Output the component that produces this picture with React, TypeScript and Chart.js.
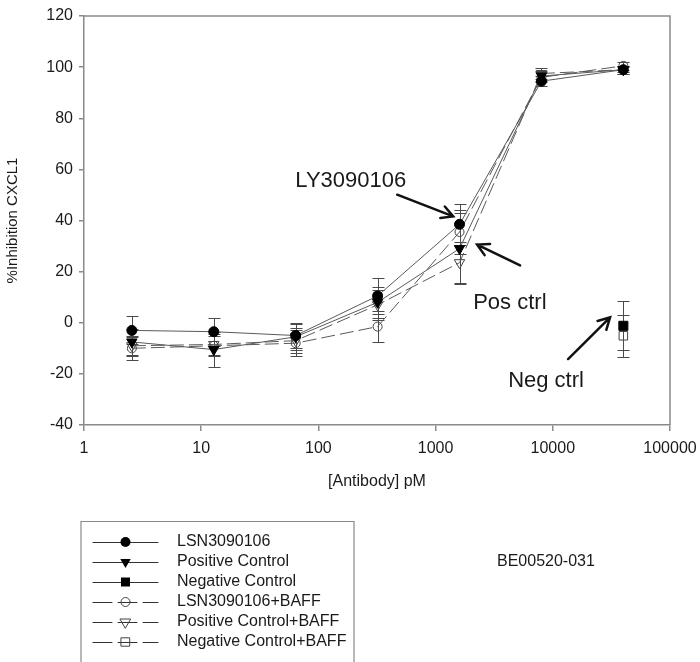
import React, { useEffect, useRef } from 'react';
import { Chart, registerables } from 'chart.js';

Chart.register(...registerables);

// ---------- data ----------
const seriesLabels = [
  'LSN3090106',
  'Positive Control',
  'Negative Control',
  'LSN3090106+BAFF',
  'Positive Control+BAFF',
  'Negative Control+BAFF',
];
const concentrations = [2.56, 12.8, 64, 320, 1600, 8000, 40000];
const negConcentrations = [40000];

const lsnValues = [-3, -3.5, -5, 10.5, 38.5, 94.5, 99];
const lsnErrors = [5.5, 5.5, 5, 7, 8, 2, 1.5];
const posValues = [-7.5, -10.5, -5.5, 8, 29, 96.5, 99];
const posErrors = [5, 7, 5, 6, 14, 2, 1];
const negValues = [-1.2];
const negErrors = [9.6];
const lsnBaffValues = [-10, -9, -8, -1.5, 35.5, 96, 100.5];
const lsnBaffErrors = [4.5, 4, 5, 6, 8.5, 2, 1.5];
const posBaffValues = [-9, -8.5, -7, 7, 23.5, 97.5, 99];
const posBaffErrors = [4, 4, 5, 6, 8, 2, 1.5];
const negBaffValues = [-5.1];
const negBaffErrors = [8.3];

const xTickValues = [1, 10, 100, 1000, 10000, 100000];
const yMin = -40;
const yMax = 120;
const yStep = 20;

const annotationTexts = ['LY3090106', 'Pos ctrl', 'Neg ctrl'];
const annotationTextAt = [[63.5, 53.3], [2093, 5.3], [4158, -25.2]];
const arrowFrom = [[470, 50.1], [5260, 22.4], [13500, -14.2]];
const arrowTo = [[1413, 41.6], [2259, 30.6], [30800, 2.1]];

const sideLabel = 'BE00520-031';

// ---------- styles ----------
const FONT = "'Liberation Sans', Arial, Helvetica, sans-serif";
const AXIS = '#8a8a8a';
const TEXT = '#1a1a1a';
const LINE = '#5a5a5a';

type Mk = { style: string; filled: boolean; dashed: boolean };
const markers: Mk[] = [
  { style: 'circle', filled: true, dashed: false },
  { style: 'triangle', filled: true, dashed: false },
  { style: 'rect', filled: true, dashed: false },
  { style: 'circle', filled: false, dashed: true },
  { style: 'triangle', filled: false, dashed: true },
  { style: 'rect', filled: false, dashed: true },
];

const seriesValues = [lsnValues, posValues, negValues, lsnBaffValues, posBaffValues, negBaffValues];
const seriesErrors = [lsnErrors, posErrors, negErrors, lsnBaffErrors, posBaffErrors, negBaffErrors];
const seriesX = [concentrations, concentrations, negConcentrations, concentrations, concentrations, negConcentrations];

function drawMarker(ctx: CanvasRenderingContext2D, m: Mk, x: number, y: number) {
  ctx.save();
  ctx.beginPath();
  if (m.style === 'circle') {
    ctx.arc(x, y, m.filled ? 5 : 4.5, 0, Math.PI * 2);
  } else if (m.style === 'triangle') {
    const r = 6;
    ctx.moveTo(x - r * 0.866, y - r * 0.5);
    ctx.lineTo(x + r * 0.866, y - r * 0.5);
    ctx.lineTo(x, y + r);
    ctx.closePath();
  } else {
    const h = m.filled ? 4.5 : 4.2;
    ctx.rect(x - h, y - h, h * 2, h * 2);
  }
  if (m.filled) {
    ctx.fillStyle = '#000';
    ctx.fill();
  } else {
    ctx.strokeStyle = '#444';
    ctx.lineWidth = 1;
    ctx.stroke();
  }
  ctx.restore();
}

const errorBarPlugin = {
  id: 'errorBars',
  beforeDatasetsDraw(chart: any) {
    const { ctx } = chart;
    const xs = chart.scales.x;
    const ys = chart.scales.y;
    ctx.save();
    ctx.strokeStyle = '#4a4a4a';
    ctx.lineWidth = 1;
    chart.data.datasets.forEach((ds: any, i: number) => {
      const errs = seriesErrors[i];
      ds.data.forEach((p: any, j: number) => {
        const e = errs[j];
        if (!e) return;
        const px = Math.round(xs.getPixelForValue(p.x)) + 0.5;
        const top = Math.round(ys.getPixelForValue(p.y + e)) + 0.5;
        const bot = Math.round(ys.getPixelForValue(p.y - e)) + 0.5;
        ctx.beginPath();
        ctx.moveTo(px, top);
        ctx.lineTo(px, bot);
        ctx.moveTo(px - 6, top);
        ctx.lineTo(px + 6, top);
        ctx.moveTo(px - 6, bot);
        ctx.lineTo(px + 6, bot);
        ctx.stroke();
      });
    });
    ctx.restore();
  },
};

const decorPlugin = {
  id: 'decor',
  afterDraw(chart: any) {
    const { ctx, chartArea } = chart;
    const xs = chart.scales.x;
    const ys = chart.scales.y;
    ctx.save();
    // frame (top & right)
    ctx.strokeStyle = AXIS;
    ctx.lineWidth = 1.5;
    ctx.beginPath();
    ctx.moveTo(chartArea.left, chartArea.top);
    ctx.lineTo(chartArea.right, chartArea.top);
    ctx.lineTo(chartArea.right, chartArea.bottom);
    ctx.stroke();

    // annotations
    ctx.fillStyle = TEXT;
    ctx.font = `22px ${FONT}`;
    ctx.textAlign = 'left';
    ctx.textBaseline = 'alphabetic';
    annotationTexts.forEach((t, i) => {
      const [ax, ay] = annotationTextAt[i];
      ctx.fillText(t, xs.getPixelForValue(ax), ys.getPixelForValue(ay));
    });
    ctx.strokeStyle = '#111';
    ctx.lineWidth = 2.5;
    ctx.lineCap = 'round';
    arrowFrom.forEach((f, i) => {
      const x1 = xs.getPixelForValue(f[0]);
      const y1 = ys.getPixelForValue(f[1]);
      const x2 = xs.getPixelForValue(arrowTo[i][0]);
      const y2 = ys.getPixelForValue(arrowTo[i][1]);
      const ang = Math.atan2(y2 - y1, x2 - x1);
      const hl = 13;
      ctx.beginPath();
      ctx.moveTo(x1, y1);
      ctx.lineTo(x2, y2);
      ctx.moveTo(x2 - hl * Math.cos(ang - 0.5), y2 - hl * Math.sin(ang - 0.5));
      ctx.lineTo(x2, y2);
      ctx.lineTo(x2 - hl * Math.cos(ang + 0.5), y2 - hl * Math.sin(ang + 0.5));
      ctx.stroke();
    });

    // legend box
    const bx = chartArea.left - 3;
    const by = 521.5;
    const bw = 273;
    ctx.strokeStyle = AXIS;
    ctx.lineWidth = 1.2;
    ctx.beginPath();
    ctx.moveTo(bx, 670);
    ctx.lineTo(bx, by);
    ctx.lineTo(bx + bw, by);
    ctx.lineTo(bx + bw, 670);
    ctx.stroke();

    ctx.font = `16px ${FONT}`;
    ctx.fillStyle = TEXT;
    ctx.textBaseline = 'middle';
    seriesLabels.forEach((lab, i) => {
      const m = markers[i];
      const ly = 542 + i * 20;
      const lx1 = bx + 12;
      const lx2 = bx + 77;
      const mx = (lx1 + lx2) / 2;
      ctx.save();
      ctx.strokeStyle = '#333';
      ctx.lineWidth = 1;
      if (m.dashed) ctx.setLineDash([19, 6]);
      ctx.beginPath();
      ctx.moveTo(lx1, ly + 0.5);
      ctx.lineTo(lx2, ly + 0.5);
      ctx.stroke();
      ctx.restore();
      drawMarker(ctx, m, mx, ly);
      ctx.fillText(lab, bx + 96, ly);
    });

    ctx.font = `16px ${FONT}`;
    ctx.fillText(sideLabel, 497, 562);
    ctx.restore();
  },
};

export default function App() {
  const ref = useRef<HTMLCanvasElement | null>(null);
  useEffect(() => {
    if (!ref.current) return;
    const datasets = seriesLabels.map((label, i) => {
      const m = markers[i];
      return {
        label,
        data: seriesX[i].map((x, j) => ({ x, y: seriesValues[i][j] })),
        borderColor: LINE,
        borderWidth: 1,
        borderDash: m.dashed ? [14, 5] : [],
        fill: false,
        tension: 0,
        pointStyle: m.style,
        pointRotation: m.style === 'triangle' ? 180 : 0,
        pointRadius: m.style === 'rect' ? (m.filled ? 6.4 : 6) : m.style === 'triangle' ? 6 : m.filled ? 5 : 4.5,
        pointBackgroundColor: m.filled ? '#000' : 'rgba(0,0,0,0)',
        pointBorderColor: m.filled ? '#000' : '#444',
        pointBorderWidth: 1,
        pointHoverRadius: 5,
      };
    });
    const chart = new Chart(ref.current, {
      type: 'line',
      data: { datasets },
      options: {
        animation: false,
        responsive: true,
        maintainAspectRatio: false,
        devicePixelRatio: 1,
        layout: { padding: { left: 0, right: 30, top: 16, bottom: 171 } },
        plugins: { legend: { display: false }, tooltip: { enabled: false } },
        scales: {
          x: {
            type: 'logarithmic',
            min: 1,
            max: 100000,
            afterBuildTicks: (s: any) => {
              s.ticks = xTickValues.map((v) => ({ value: v }));
            },
            afterFit: (s: any) => {
              s.height = 66;
              s.paddingRight = 0;
              s.paddingLeft = 0;
            },
            ticks: {
              callback: (v: any) => String(v),
              font: { family: FONT, size: 16 },
              color: TEXT,
              padding: 8,
              maxRotation: 0,
              autoSkip: false,
            },
            grid: { display: true, drawOnChartArea: false, drawTicks: true, tickLength: 6, color: AXIS, lineWidth: 1.5 },
            border: { display: true, color: AXIS, width: 1.5 },
            title: {
              display: true,
              text: '[Antibody] pM',
              font: { family: FONT, size: 16 },
              color: TEXT,
              padding: { top: 0, bottom: 0 },
            },
          },
          y: {
            min: yMin,
            max: yMax,
            afterFit: (s: any) => {
              s.width = 84;
            },
            ticks: {
              stepSize: yStep,
              font: { family: FONT, size: 16 },
              color: TEXT,
              padding: 6,
            },
            grid: { display: true, drawOnChartArea: false, drawTicks: true, tickLength: 5, color: AXIS, lineWidth: 1.5 },
            border: { display: true, color: AXIS, width: 1.5 },
            title: {
              display: true,
              text: '%Inhibition CXCL1',
              font: { family: FONT, size: 15 },
              color: TEXT,
              padding: { top: 4, bottom: 0 },
            },
          },
        },
      },
      plugins: [errorBarPlugin, decorPlugin],
    } as any);
    return () => chart.destroy();
  }, []);
  return (
    <div style={{ position: 'absolute', left: 0, top: 0, width: 700, height: 662, background: '#fff' }}>
      <canvas ref={ref} />
    </div>
  );
}
